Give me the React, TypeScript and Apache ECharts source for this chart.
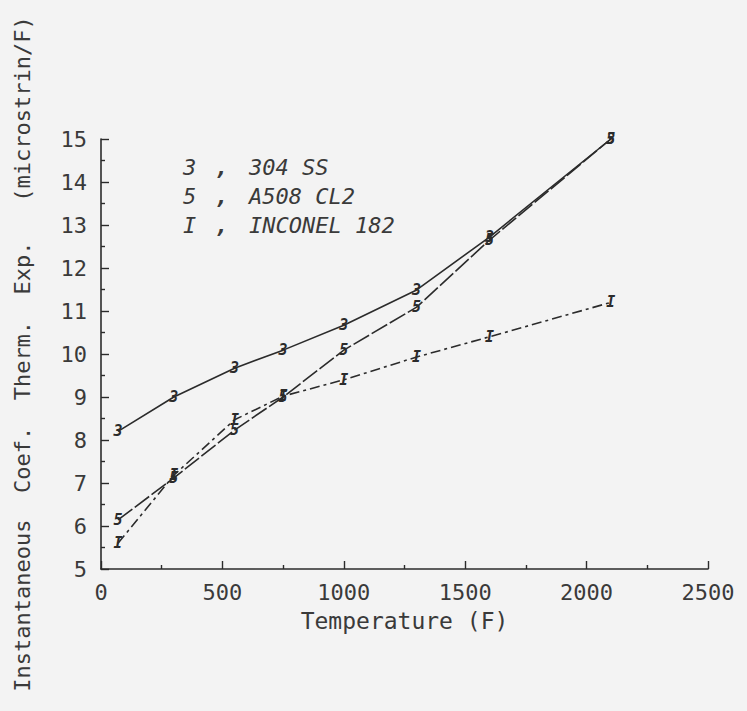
import React, { useEffect, useRef } from "react";
import * as echarts from "echarts";

const temps = [70, 300, 550, 750, 1000, 1300, 1600, 2100];
const ss304 = [8.2, 9.0, 9.67, 10.09, 10.67, 11.49, 12.72, 15.0];
const a508 = [6.14, 7.12, 8.23, 9.0, 10.09, 11.09, 12.65, 15.0];
const inconel = [5.6, 7.18, 8.47, 9.02, 9.4, 9.93, 10.4, 11.2];

const seriesMarks = ["3", "5", "I"];
const legendKeys = ["3", "5", "I"];
const legendNames = ["304 SS", "A508 CL2", "INCONEL 182"];

const xName = "Temperature (F)";
const yName = "Instantaneous  Coef.  Therm.  Exp.   (microstrin/F)";

const INK = "#2b2b2b";
const TEXT = "#3a3a3a";
const FONT = "DejaVu Sans Mono";

export default function App() {
  const ref = useRef<HTMLDivElement>(null);
  useEffect(() => {
    if (!ref.current) return;
    const chart = echarts.init(ref.current, undefined, { renderer: "svg" });
    const mk = (name: string, vals: number[], mark: string, dash: any) => ({
      type: "line",
      name,
      data: temps.map((t, i) => [t, vals[i]]),
      symbol: "circle",
      symbolSize: 12,
      itemStyle: { color: "rgba(0,0,0,0)" },
      lineStyle: { color: INK, width: 1.6, type: dash },
      label: {
        show: true,
        position: "inside",
        formatter: () => mark,
        fontFamily: FONT,
        fontStyle: "italic",
        fontWeight: "bold",
        fontSize: 15,
        color: INK,
      },
      emphasis: { disabled: true },
      z: 3,
    });
    const legendY = [168, 197, 226];
    const graphic: any[] = [];
    legendNames.forEach((n, i) => {
      graphic.push({
        type: "text",
        left: 183,
        top: legendY[i] - 12,
        style: { text: legendKeys[i], font: `italic 22px '${FONT}'`, fill: TEXT },
      });
      graphic.push({
        type: "text",
        left: 215,
        top: legendY[i] - 12,
        style: { text: ",", font: `bold italic 22px '${FONT}'`, fill: TEXT },
      });
      graphic.push({
        type: "text",
        left: 249,
        top: legendY[i] - 12,
        style: { text: n, font: `italic 22px '${FONT}'`, fill: TEXT },
      });
    });
    chart.setOption({
      animation: false,
      backgroundColor: "#f3f3f3",
      grid: { left: 101, right: 39, top: 139, bottom: 142 },
      xAxis: {
        type: "value",
        min: 0,
        max: 2500,
        interval: 500,
        name: xName,
        nameLocation: "middle",
        nameGap: 40,
        nameTextStyle: { fontFamily: FONT, fontSize: 23, color: TEXT },
        axisLine: { lineStyle: { color: INK, width: 1.6 } },
        axisTick: { show: true, inside: true, length: 8, lineStyle: { color: INK, width: 1.4 } },
        minorTick: { show: true, splitNumber: 2, length: 4, lineStyle: { color: INK, width: 1.4 } },
        axisLabel: {
          fontFamily: FONT,
          fontSize: 22,
          color: TEXT,
          margin: 12,
          formatter: (v: number) => String(v),
        },
        splitLine: { show: false },
      },
      yAxis: {
        type: "value",
        min: 5,
        max: 15,
        interval: 1,
        name: yName,
        nameLocation: "middle",
        nameGap: 68,
        nameTextStyle: { fontFamily: FONT, fontSize: 22, color: TEXT },
        axisLine: { lineStyle: { color: INK, width: 1.6 } },
        axisTick: { show: true, inside: true, length: 8, lineStyle: { color: INK, width: 1.4 } },
        minorTick: { show: true, splitNumber: 2, length: 4, lineStyle: { color: INK, width: 1.4 } },
        axisLabel: { fontFamily: FONT, fontSize: 22, color: TEXT, margin: 14 },
        splitLine: { show: false },
      },
      graphic,
      series: [
        mk("304 SS", ss304, seriesMarks[0], "solid"),
        mk("A508 CL2", a508, seriesMarks[1], [18, 3]),
        mk("INCONEL 182", inconel, seriesMarks[2], [10, 4, 3, 4]),
      ],
    });
    return () => chart.dispose();
  }, []);
  return (
    <div
      ref={ref}
      style={{ position: "fixed", left: 0, top: 0, width: 747, height: 711, background: "#f3f3f3" }}
    />
  );
}
